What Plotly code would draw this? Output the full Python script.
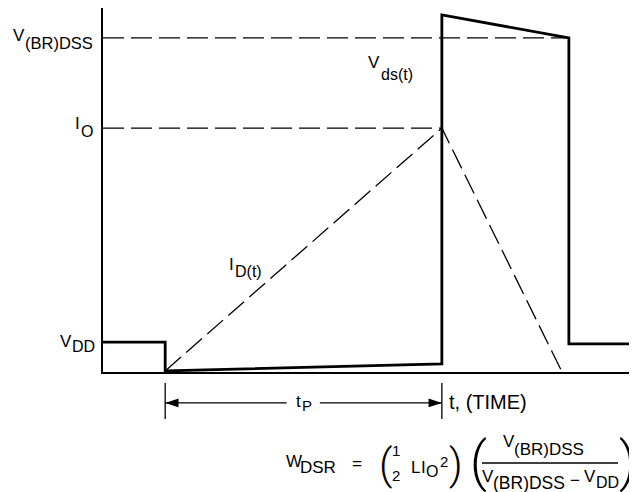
import plotly.graph_objects as go

# ---------------- data (normalised units: time 0..100, level 0..100) ----------------
t_on = 11.8        # start of avalanche pulse tP
t_off = 64.3       # end of tP (switch-off)
t_clamp_end = 88.4 # end of V(BR)DSS clamp
t_id_zero = 87.1   # drain current returns to zero
t_end = 100.0

v_dd = 8.2
v_dd_after = 7.7
v_brdss = 91.8
v_peak = 98.1
i_o = 67.0

vds_t = [0.0, t_on, t_on, t_off, t_off, t_clamp_end, t_clamp_end, t_end]
vds_v = [v_dd, v_dd, 0.3, 2.2, v_peak, v_brdss, v_dd_after, v_dd_after]

id_t = [t_on, t_off, t_id_zero]
id_v = [0.3, i_o, 0.0]

vbr_ref_t = [0.0, t_clamp_end]
vbr_ref_v = [v_brdss, v_brdss]
io_ref_t = [0.0, t_off]
io_ref_v = [i_o, i_o]

# tP dimension row (drawn on a second, hidden axis pair below the time axis)
tp_mid = (t_on + t_off) / 2
tp_gap = [tp_mid - 3.2, tp_mid + 3.1]          # space left for the "tP" label
tp_line_t = [t_on, tp_gap[0], None, tp_gap[1], t_off]
tp_line_v = [-8.5, -8.5, None, -8.5, -8.5]
tp_tick_t = [t_on, t_on, None, t_off, t_off]
tp_tick_v = [-3.0, -12.9, None, -3.0, -12.9]
tp_head_t = [t_on, t_off]
tp_head_v = [-8.5, -8.5]

# ---------------- layout geometry (screen pixels; page body has an 8px margin) ----------------
BODY = 8
W, H = 637 - BODY, 492 - BODY
L, R, T, B = 103, 630, 8, 372          # main plot area on screen
BOT = 492                              # bottom of the figure on screen
main_dom = [(BOT - B) / (BOT - T), 1.0]
y_scale = (B - T) / 100.0              # px per level unit
y2_min = -(BOT - B) / y_scale
FONT = "Liberation Sans, Arial, Helvetica, sans-serif"
PAREN_FONT = "Roboto, Liberation Sans, sans-serif"
DASH = "21px,7px"


def px2x(p):
    return (p - L) / (R - L)


def py2y(p):
    return (BOT - p) / (BOT - T)


annotations = []


def label(x, y, text, size=17, xanchor="left", family=FONT, weight=None):
    f = dict(family=family, size=size, color="black")
    if weight is not None:
        f["weight"] = weight
    annotations.append(dict(
        xref="paper", yref="paper", x=px2x(x), y=py2y(y), text=text,
        showarrow=False, xanchor=xanchor, yanchor="middle", font=f, borderpad=0,
    ))


fig = go.Figure()

# reference dashed levels
fig.add_trace(go.Scatter(x=vbr_ref_t, y=vbr_ref_v, mode="lines",
                         line=dict(color="black", width=1.3, dash=DASH)))
fig.add_trace(go.Scatter(x=io_ref_t, y=io_ref_v, mode="lines",
                         line=dict(color="black", width=1.3, dash=DASH)))
# drain current (dashed)
fig.add_trace(go.Scatter(x=id_t, y=id_v, mode="lines",
                         line=dict(color="black", width=1.3, dash=DASH)))
# drain-source voltage (thick)
fig.add_trace(go.Scatter(x=vds_t, y=vds_v, mode="lines",
                         line=dict(color="black", width=2.8)))
# tP dimension: ticks, line and arrowheads
fig.add_trace(go.Scatter(x=tp_tick_t, y=tp_tick_v, mode="lines", xaxis="x2", yaxis="y2",
                         line=dict(color="black", width=1.3)))
fig.add_trace(go.Scatter(x=tp_line_t, y=tp_line_v, mode="lines", xaxis="x2", yaxis="y2",
                         line=dict(color="black", width=1.3)))
fig.add_trace(go.Scatter(x=tp_head_t, y=tp_head_v, mode="markers", xaxis="x2", yaxis="y2",
                         marker=dict(symbol="arrow", size=14, angle=[270, 90],
                                     color="black", line=dict(width=0))))

shapes = [
    # fraction bar of the formula
    dict(type="line", xref="paper", yref="paper", x0=px2x(482), x1=px2x(618),
         y0=py2y(463), y1=py2y(463), line=dict(color="black", width=1.3)),
]

# ---------------- labels ----------------
# left level labels
label(25.5, 35.5, "V", 17, "right")
label(23.5, 43, "(BR)DSS", 16.5)
label(81, 123.5, "I", 17, "right")
label(79.5, 131.5, "O", 16)
label(72.5, 341, "V", 17, "right")
label(71, 346.5, "DD", 16)

# curve labels
label(235, 264, "I", 17, "right")
label(234, 271, "D(t)", 16)
label(380.5, 62.3, "V", 17, "right")
label(379.5, 74, "ds(t)", 16)

# tP and time axis title
label(295, 401, "t", 17)
label(300.5, 405, "P", 15)
label(448, 402, "t, (TIME)", 20)

# formula  W_DSR = (1/2 L I_O^2) ( V(BR)DSS / (V(BR)DSS - VDD) )
label(285, 461, "W", 17)
label(299, 467, "DSR", 17)
label(351, 463, "=", 17)
label(385, 464, "(", 42, "center", PAREN_FONT, 300)
label(396, 450, "1", 15, "center")
label(396, 475, "2", 15, "center")
label(409.5, 467, "L", 17)
label(420, 467, "I", 17)
label(425, 471, "O", 16)
label(438.5, 461, "2", 15)
label(456, 464, ")", 42, "center", PAREN_FONT, 300)
label(478.5, 462, "(", 53, "center", PAREN_FONT, 300)
label(502, 441.5, "V", 17)
label(512.5, 449, "(BR)DSS", 17)
label(481, 476, "V", 17)
label(491.5, 483, "(BR)DSS", 17.5)
label(575, 480, "\u2212", 17, "center")
label(583, 476, "V", 17)
label(594.5, 482, "DD", 16)
label(627, 462, ")", 53, "center", PAREN_FONT, 300)

axis_common = dict(showline=True, linecolor="black", linewidth=1.5, showgrid=False,
                   zeroline=False, showticklabels=False, ticks="", fixedrange=True)

fig.update_layout(
    width=W, height=H,
    margin=dict(l=L - BODY, r=W - (R - BODY), t=T - BODY, b=0),
    paper_bgcolor="white", plot_bgcolor="white",
    showlegend=False, hovermode=False,
    xaxis=dict(range=[0, 100], domain=[0, 1], anchor="y", **axis_common),
    yaxis=dict(range=[0, 100], domain=main_dom, anchor="x", **axis_common),
    xaxis2=dict(range=[0, 100], domain=[0, 1], anchor="y2", matches="x", visible=False,
                fixedrange=True),
    yaxis2=dict(range=[y2_min, 0], domain=[0, main_dom[0]], anchor="x2", visible=False,
                fixedrange=True),
    shapes=shapes, annotations=annotations,
    font=dict(family=FONT, color="black"),
)

fig.write_html("out.html")
